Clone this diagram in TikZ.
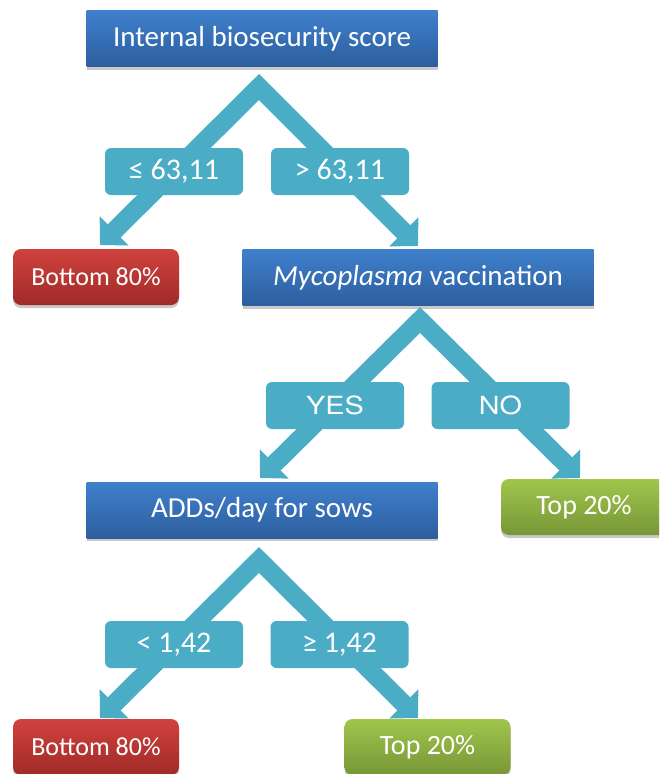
\documentclass[tikz,border=0pt]{standalone}
\usepackage{fontspec}
\setmainfont{Carlito}
\newfontfamily\ynfont{TeX Gyre Heros}[FakeStretch=1.15]
\usetikzlibrary{arrows.meta,shadows}

\definecolor{brTeal}{RGB}{75,172,198}
\definecolor{blueTop}{RGB}{63,128,205}
\definecolor{blueBot}{RGB}{45,94,158}
\definecolor{redTop}{RGB}{208,66,62}
\definecolor{redBot}{RGB}{160,42,40}
\definecolor{greenTop}{RGB}{160,198,76}
\definecolor{greenBot}{RGB}{119,150,54}

\tikzset{
  >={Triangle[length=20pt,width=40pt]},
  boxshadow/.style={drop shadow={shadow xshift=0pt,shadow yshift=-3pt,opacity=.3,fill=black!70}},
  decision/.style={rectangle,boxshadow,minimum width=351pt,minimum height=56pt,
    top color=blueTop,bottom color=blueBot,inner sep=0pt,
    text=white,font=\fontsize{29}{32}\selectfont},
  outcome/.style={rectangle,rounded corners=8pt,boxshadow,minimum width=166pt,
    minimum height=56pt,inner sep=0pt,text=white},
  low/.style={outcome,top color=redTop,bottom color=redBot,font=\fontsize{26}{30}\selectfont},
  high/.style={outcome,top color=greenTop,bottom color=greenBot,font=\fontsize{28}{30}\selectfont},
  cond/.style={rectangle,rounded corners=6pt,fill=brTeal,text=white,minimum width=138pt,
    minimum height=47pt,inner sep=0pt,font=\fontsize{30}{32}\selectfont},
  yn/.style={cond,font=\ynfont\fontsize{25}{30}\selectfont},
  branch/.style={draw=brTeal,line width=18.4pt,line join=miter,<->},
}

\begin{document}
\begin{tikzpicture}[x=1pt,y=-1pt]
  \path[use as bounding box] (0,0) rectangle (659,774);
  \clip (0,0) rectangle (659,774);

  % first split: internal biosecurity score
  \node[decision] (ibs) at (262,38.5) {Internal biosecurity score};
  \coordinate (j1) at (259,87);
  \coordinate (j1l) at (100,245);
  \coordinate (j1r) at (418,246);
  \draw[branch] (j1l) -- (j1) -- (j1r);
  \node[cond] (c1l) at (174,171.5) {≤ 63,11};
  \node[cond] (c1r) at (340,171.5) {> 63,11};
  \node[low] (bot1) at (96,277) {Bottom 80\%};

  % second split: Mycoplasma vaccination
  \node[decision] (myc) at (418,277.5) {\textit{Mycoplasma} vaccination};
  \coordinate (j2) at (420,320);
  \coordinate (j2l) at (260,478);
  \coordinate (j2r) at (580,478);
  \draw[branch] (j2l) -- (j2) -- (j2r);
  \node[yn] (c2l) at (335,405.5) {YES};
  \node[yn] (c2r) at (500.5,405.5) {NO};
  \node[high] (top1) at (584,507) {Top 20\%};

  % third split: ADDs/day for sows
  \node[decision] (add) at (262,510) {ADDs/day for sows};
  \coordinate (j3) at (259,560);
  \coordinate (j3l) at (100,718);
  \coordinate (j3r) at (418,718);
  \draw[branch] (j3l) -- (j3) -- (j3r);
  \node[cond] (c3l) at (174,644.5) {< 1,42};
  \node[cond] (c3r) at (339.5,644.5) {≥ 1,42};
  \node[low] (bot2) at (96,747) {Bottom 80\%};
  \node[high] (top2) at (427.5,747) {Top 20\%};
\end{tikzpicture}
\end{document}
